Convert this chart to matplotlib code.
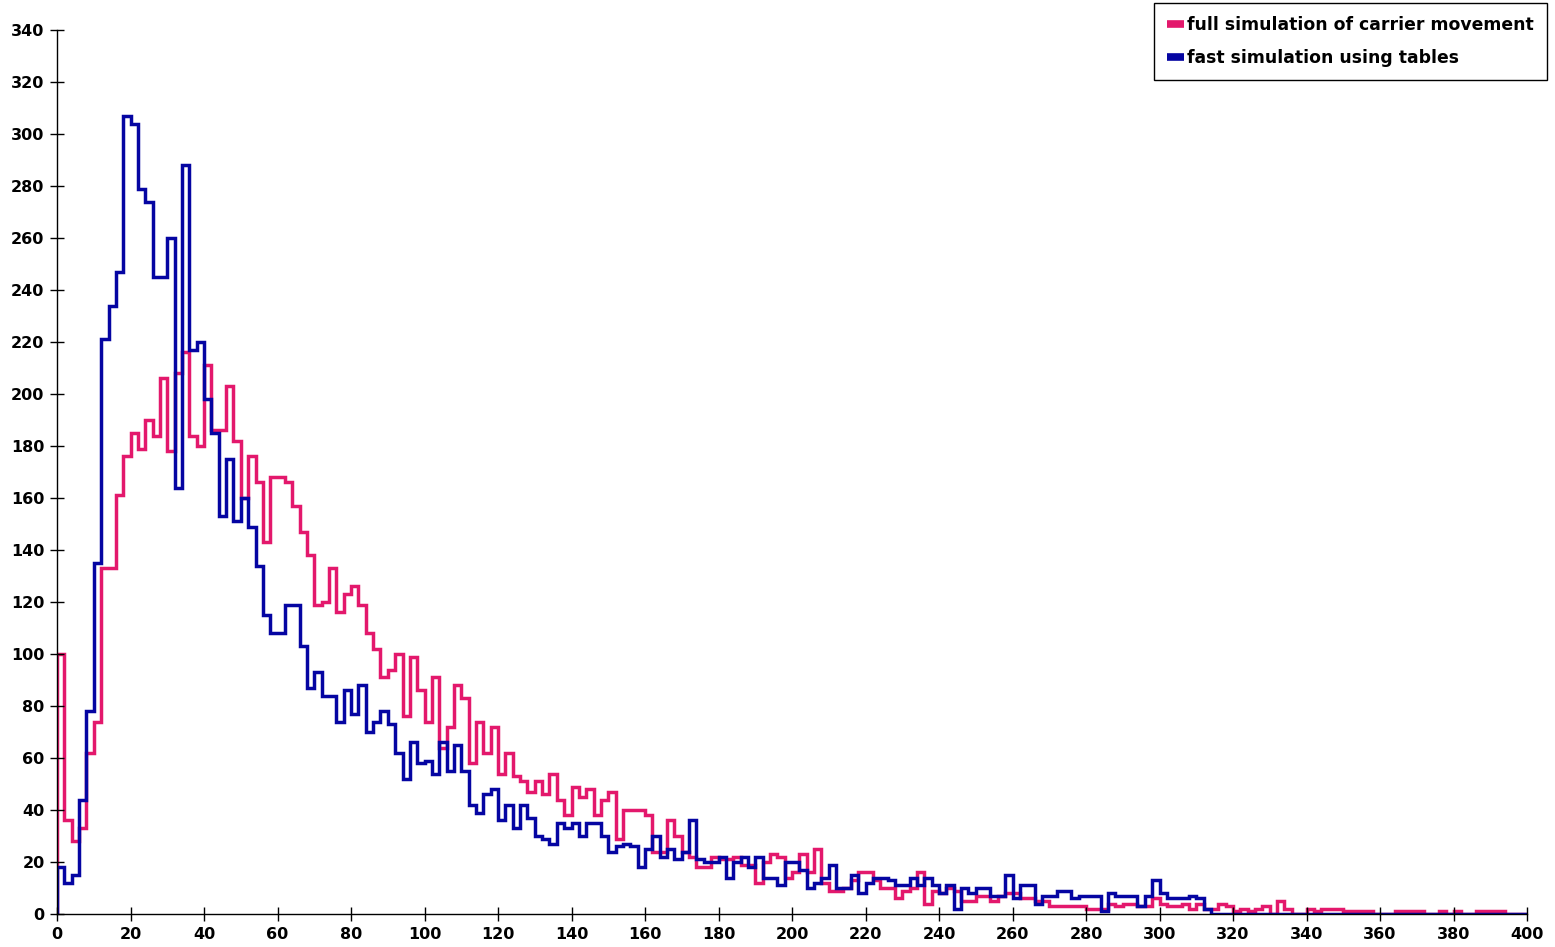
import matplotlib.pyplot as plt
import numpy as np
from matplotlib.lines import Line2D

# histogram contents, bins of width 2 from 0 to 400 (200 bins)
bin_width = 2
x_min = 0
x_max = 400

full_sim = [100, 36, 28, 33, 62, 74, 133, 133, 161, 176,
            185, 179, 190, 184, 206, 178, 208, 216, 184, 180,
            211, 186, 186, 203, 182, 160, 176, 166, 143, 168,
            168, 166, 157, 147, 138, 119, 120, 133, 116, 123,
            126, 119, 108, 102, 91, 94, 100, 76, 99, 86,
            74, 91, 64, 72, 88, 83, 58, 74, 62, 72,
            54, 62, 53, 51, 47, 51, 46, 54, 44, 38,
            49, 45, 48, 38, 44, 47, 29, 40, 40, 40,
            38, 24, 24, 36, 30, 24, 22, 18, 18, 22,
            21, 21, 22, 19, 19, 12, 20, 23, 22, 14,
            16, 23, 16, 25, 12, 9, 9, 10, 13, 16,
            16, 13, 10, 10, 6, 9, 10, 16, 4, 9,
            8, 10, 9, 5, 5, 7, 7, 5, 7, 8,
            8, 6, 6, 5, 5, 3, 3, 3, 3, 3,
            2, 2, 2, 4, 3, 4, 4, 3, 3, 6,
            4, 3, 3, 4, 2, 4, 2, 2, 4, 3,
            1, 2, 1, 2, 3, 0, 5, 2, 0, 0,
            2, 1, 2, 2, 2, 1, 1, 1, 1, 0,
            0, 0, 1, 1, 1, 1, 0, 0, 1, 0,
            1, 0, 0, 1, 1, 1, 1, 0, 0, 0]

fast_sim = [18, 12, 15, 44, 78, 135, 221, 234, 247, 307,
            304, 279, 274, 245, 245, 260, 164, 288, 217, 220,
            198, 185, 153, 175, 151, 160, 149, 134, 115, 108,
            108, 119, 119, 103, 87, 93, 84, 84, 74, 86,
            77, 88, 70, 74, 78, 73, 62, 52, 66, 58,
            59, 54, 66, 55, 65, 55, 42, 39, 46, 48,
            36, 42, 33, 42, 37, 30, 29, 27, 35, 33,
            35, 30, 35, 35, 30, 24, 26, 27, 26, 18,
            25, 30, 22, 25, 21, 24, 36, 21, 20, 20,
            22, 14, 20, 22, 18, 22, 14, 14, 11, 20,
            20, 17, 10, 12, 14, 19, 10, 10, 15, 8,
            12, 14, 14, 13, 11, 11, 14, 11, 14, 11,
            8, 11, 2, 10, 8, 10, 10, 7, 7, 15,
            6, 11, 11, 4, 7, 7, 9, 9, 6, 7,
            7, 7, 1, 8, 7, 7, 7, 3, 7, 13,
            8, 6, 6, 6, 7, 6, 2, 0, 0, 0,
            0, 0, 0, 0, 0, 0, 0, 0, 0, 0,
            0, 0, 0, 0, 0, 0, 0, 0, 0, 0,
            0, 0, 0, 0, 0, 0, 0, 0, 0, 0,
            0, 0, 0, 0, 0, 0, 0, 0, 0, 0]

labels = ['full simulation of carrier movement', 'fast simulation using tables']
colors = ['#e3186c', '#0505a2']

edges = np.arange(x_min, x_max + bin_width, bin_width)

fig = plt.figure(figsize=(15.55, 9.47), dpi=100)
ax = fig.add_axes([0.0367, 0.0348, 0.9453, 0.9335])

ax.stairs(full_sim, edges, baseline=0, color=colors[0], linewidth=2.5)
ax.stairs(fast_sim, edges, baseline=0, color=colors[1], linewidth=2.5)

ax.set_xlim(0, 400)
ax.set_ylim(0, 340)
ax.set_xticks(np.arange(0, 401, 20))
ax.set_yticks(np.arange(0, 341, 20))

# ROOT-like axes: only left and bottom, ticks crossing the axis
ax.spines['top'].set_visible(False)
ax.spines['right'].set_visible(False)
ax.spines['left'].set_linewidth(1.0)
ax.spines['bottom'].set_linewidth(1.0)
ax.tick_params(direction='inout', length=10, width=1.0, pad=4)
for lab in ax.get_xticklabels() + ax.get_yticklabels():
    lab.set_fontweight('bold')
    lab.set_fontsize(11.5)

handles = [Line2D([], [], color=c, linewidth=5.5, solid_capstyle='butt') for c in colors]
leg = fig.legend(handles, labels, loc='upper right', bbox_to_anchor=(0.9948, 0.9968),
                 fancybox=False, framealpha=1, edgecolor='black',
                 handlelength=1.0, handletextpad=0.2, borderpad=0.75,
                 borderaxespad=0.0, labelspacing=0.85,
                 prop={'weight': 'bold', 'size': 12.4})
leg.get_frame().set_linewidth(1.0)

fig.savefig('out.png', dpi=100)
